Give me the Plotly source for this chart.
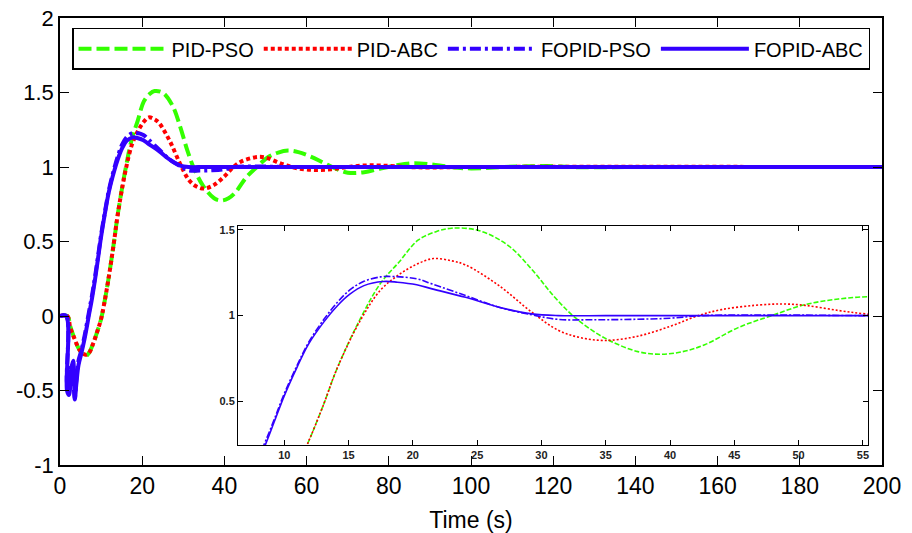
import plotly.graph_objects as go

# ---------------- data ----------------
t_pid_pso = [0, 1.8, 2.5, 3.5, 4.8, 6.2, 7.0, 8.0, 9.0, 10.0, 10.8, 11.8, 13.0, 14.1, 15.9, 17.5, 18.9,
             20.4, 21.8, 23.0, 25.1, 27.4, 29.25, 31.0, 32.6, 34.9, 37.5, 39.3, 41.0, 42.7, 45.3, 47.9,
             50.5, 53.1, 55.5, 58, 61, 64, 67, 70, 74, 78, 82, 86, 90, 94, 98, 103, 108, 114,
             119, 124, 130, 140, 200]
y_pid_pso = [0, 0, -0.07, -0.15, -0.23, -0.27, -0.25, -0.19, -0.11, -0.02, 0.09, 0.25, 0.47, 0.69, 0.98, 1.19, 1.31,
             1.44, 1.49, 1.51, 1.497, 1.41, 1.27, 1.11, 0.99, 0.87, 0.79, 0.775, 0.79, 0.83, 0.93, 1.0,
             1.064, 1.097, 1.11, 1.10, 1.07, 1.03, 0.99, 0.962, 0.965, 0.99, 1.012, 1.025, 1.018, 1.004, 0.992, 0.992, 1.0, 1.005,
             1.006, 1.0, 0.998, 1.0, 1.0]

t_pid_abc = [0, 1.8, 2.5, 3.5, 4.8, 6.2, 7.0, 8.0, 9.0, 10.0, 10.8, 11.8, 13.0, 14.1, 15.9, 17.5, 18.9,
             20.3, 21.6, 23.0, 24.1, 26.7, 29.25, 31.3, 33.0, 35.0, 37.5, 40.1, 42.2, 44.0, 46.6,
             48.7, 50.5, 53.1, 55.2, 58, 62, 66, 70, 74, 78, 84, 90, 100, 200]
y_pid_abc = [0, 0, -0.08, -0.15, -0.23, -0.26, -0.25, -0.19, -0.11, -0.02, 0.09, 0.25, 0.47, 0.69, 0.97, 1.15, 1.238,
             1.30, 1.333, 1.32, 1.296, 1.175, 1.02, 0.915, 0.872, 0.855, 0.88, 0.94, 1.0, 1.035, 1.06,
             1.068, 1.06, 1.03, 1.01, 0.99, 0.98, 0.985, 1.0, 1.01, 1.01, 1.0, 0.997, 1.0, 1.0]

t_fopid_pso = [0, 1.5, 1.7, 2.2, 2.7, 3.2, 3.6, 4.0, 4.5, 5.2, 6.0, 7.0, 7.8, 8.5, 9.2, 10.0, 11.0, 11.9,
               13.1, 14.1, 15.1, 16.2, 17.5, 18.5, 20.3, 21.5, 24.1, 26.7, 29.25, 31.3, 34, 37, 40,
               42.5, 46, 50, 55, 60, 200]
y_fopid_pso = [0, 0, -0.45, -0.5, -0.33, -0.42, -0.55, -0.42, -0.3, -0.23, -0.13, 0.02, 0.14, 0.26, 0.39, 0.545, 0.71, 0.845,
               0.98, 1.075, 1.15, 1.2, 1.226, 1.228, 1.215, 1.185, 1.117, 1.049, 1.005, 0.978, 0.976, 0.978, 0.985,
               1.0, 1.003, 1.003, 1.0, 1.0, 1.0]

t_fopid_abc = [0, 1.5, 1.7, 2.2, 2.7, 3.2, 3.6, 4.0, 4.5, 5.2, 6.0, 7.0, 7.8, 8.55, 9.2, 10.0, 11.0, 11.9,
               13.1, 14.1, 15.1, 16.2, 17.7, 18.8, 20.3, 21.5, 24.1, 26.7, 29.25, 31.3, 35, 40, 50, 200]
y_fopid_abc = [0, 0, -0.5, -0.53, -0.36, -0.30, -0.56, -0.45, -0.33, -0.25, -0.15, 0.0, 0.12, 0.25, 0.376, 0.532, 0.70, 0.835,
               0.965, 1.055, 1.125, 1.175, 1.199, 1.195, 1.18, 1.156, 1.107, 1.049, 1.01, 1.0, 1.0, 1.0, 1.0, 1.0]

series_names = ["PID-PSO", "PID-ABC", "FOPID-PSO", "FOPID-ABC"]
x_ticks = [0, 20, 40, 60, 80, 100, 120, 140, 160, 180, 200]
y_ticks = [-1, -0.5, 0, 0.5, 1, 1.5, 2]
y_tick_text = ["-1", "-0.5", "0", "0.5", "1", "1.5", "2"]
inset_x_ticks = [10, 15, 20, 25, 30, 35, 40, 45, 50, 55]
inset_y_ticks = [0.5, 1, 1.5]
inset_y_text = ["0.5", "1", "1.5"]

# ---------------- styling ----------------
colors = ["#33ff00", "#ff0000", "#3300ff", "#3300ff"]
dash_main = ["13px,5px", "4px,3px", "11px,4px,3px,4px", "solid"]
dash_inset = ["5px,2px", "2px,2px", "7px,2px,2px,2px", "solid"]
data = [(t_pid_pso, y_pid_pso), (t_pid_abc, y_pid_abc),
        (t_fopid_pso, y_fopid_pso), (t_fopid_abc, y_fopid_abc)]

fig = go.Figure()
for name, (t, y), c, d in zip(series_names, data, colors, dash_main):
    fig.add_trace(go.Scatter(x=t, y=y, name=name, mode="lines", xaxis="x", yaxis="y",
                             line=dict(color=c, width=4, dash=d, shape="spline", smoothing=1.0)))
for name, (t, y), c, d in zip(series_names, data, colors, dash_inset):
    fig.add_trace(go.Scatter(x=t, y=y, name=name, mode="lines", xaxis="x2", yaxis="y2",
                             showlegend=False, cliponaxis=True,
                             line=dict(color=c, width=1.6, dash=d, shape="spline", smoothing=1.0)))

main_font = dict(family="Liberation Sans, Arial, sans-serif", size=22, color="black")
narrow_font = dict(family="Liberation Sans Narrow, Arial Narrow, Liberation Sans, sans-serif", size=23, color="black")
inset_font = dict(family="Liberation Sans, Arial, sans-serif", size=11, color="#222222", weight="bold")

fig.update_layout(
    width=912, height=533,
    margin=dict(l=60, r=30, t=18, b=68),
    paper_bgcolor="white", plot_bgcolor="white",
    font=main_font,
    showlegend=True,
    legend=dict(orientation="h", x=0.0146, y=0.978, xanchor="left", yanchor="top",
                bordercolor="black", borderwidth=1.5, bgcolor="white",
                font=dict(family="Liberation Sans, Arial, sans-serif", size=20, color="black"),
                itemwidth=88, tracegroupgap=0),
    xaxis=dict(domain=[0, 1], range=[0, 200], tickvals=x_ticks, ticks="inside", ticklen=9,
               tickcolor="black", showline=True, linecolor="black", linewidth=1.5, mirror="allticks",
               showgrid=False, zeroline=False, tickfont=narrow_font, automargin=False,
               title=dict(text="Time (s)", font=dict(family=narrow_font["family"], size=23, color="black"),
                          standoff=14)),
    yaxis=dict(domain=[0, 1], range=[-1, 2], tickvals=y_ticks, ticktext=y_tick_text, ticks="inside",
               ticklen=9, tickcolor="black", showline=True, linecolor="black", linewidth=1.5,
               mirror="allticks", showgrid=False, zeroline=False, tickfont=main_font, automargin=False),
    xaxis2=dict(domain=[0.2165, 0.983], range=[6.4, 55.4], anchor="y2", tickvals=inset_x_ticks,
                ticks="inside", ticklen=5, tickcolor="black", showline=True, linecolor="black",
                linewidth=1, mirror="allticks", showgrid=False, zeroline=False, tickfont=inset_font),
    yaxis2=dict(domain=[0.0447, 0.5347], range=[0.245, 1.523], anchor="x2", tickvals=inset_y_ticks,
                ticktext=inset_y_text, ticks="inside", ticklen=5, tickcolor="black", showline=True,
                linecolor="black", linewidth=1, mirror="allticks", showgrid=False, zeroline=False,
                tickfont=inset_font),
)

fig.write_html("out.html")
